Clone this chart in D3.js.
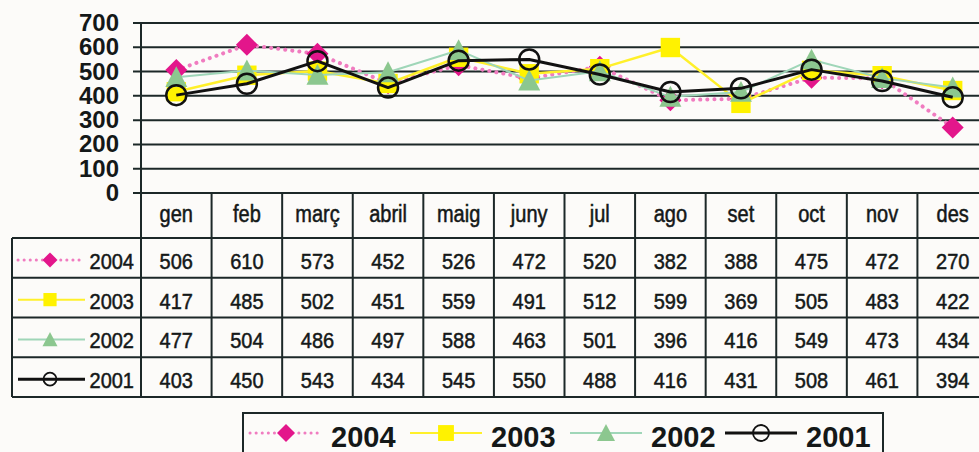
<!DOCTYPE html>
<html>
<head>
<meta charset="utf-8">
<script src="https://cdn.jsdelivr.net/npm/d3@7"></script>
<style>
  html, body { margin: 0; padding: 0; background: #fcfbf9; overflow: hidden; }
  svg { display: block; font-family: "Liberation Sans", Arial, sans-serif; }
</style>
</head>
<body>
<svg id="chart" width="979" height="452"></svg>
<script>
// Monthly figures, one array per year
const months = ["gen", "feb", "març", "abril", "maig", "juny", "jul", "ago", "set", "oct", "nov", "des"];
const years = ["2004", "2003", "2002", "2001"];
const values2004 = [506, 610, 573, 452, 526, 472, 520, 382, 388, 475, 472, 270];
const values2003 = [417, 485, 502, 451, 559, 491, 512, 599, 369, 505, 483, 422];
const values2002 = [477, 504, 486, 497, 588, 463, 501, 396, 416, 549, 473, 434];
const values2001 = [403, 450, 543, 434, 545, 550, 488, 416, 431, 508, 461, 394];
const yTicks = [0, 100, 200, 300, 400, 500, 600, 700];

const seriesValues = [values2004, values2003, values2002, values2001];

const styles = {
  "2004": { line: "#f07cc0", width: 4, dash: "0.1,7", cap: "round", marker: "diamond", fill: "#e3168b", stroke: "none" },
  "2003": { line: "#fff02a", width: 2.5, dash: null, cap: "butt", marker: "square", fill: "#fff200", stroke: "none" },
  "2002": { line: "#9fd6b8", width: 2, dash: null, cap: "butt", marker: "triangle", fill: "#8cc78f", stroke: "none" },
  "2001": { line: "#111111", width: 3, dash: null, cap: "butt", marker: "circle", fill: "none", stroke: "#111111" }
};

const svg = d3.select("#chart");
const ink = "#1c2828";

const plotLeft = 141, plotRight = 988, plotTop = 23, plotBottom = 193;
const tableLeft = 12, headBottom = 238, tableBottom = 397;

const x = d3.scaleBand().domain(months).range([plotLeft, plotRight]);
const y = d3.scaleLinear().domain([0, 700]).range([plotBottom, plotTop]);
const row = d3.scaleBand().domain(years).range([headBottom, tableBottom]);

// Text helper: places a label at a baseline point with a slight vertical stretch
function label(parent, tx, ty, text, opts) {
  const g = parent.append("g").attr("transform", `translate(${tx},${ty}) scale(1,${opts.sy || 1})`);
  g.append("text")
    .attr("text-anchor", opts.anchor || "middle")
    .attr("font-size", opts.size)
    .attr("font-weight", opts.weight || "normal")
    .attr("fill", "#141818")
    .attr("stroke", opts.thick ? "#141818" : null)
    .attr("stroke-width", opts.thick || null)
    .text(text);
  return g;
}

// Marker shapes
function drawMarker(parent, type, cx, cy, size, st) {
  const h = size / 2;
  if (type === "diamond") {
    parent.append("path").attr("d", `M${cx},${cy - h}L${cx + h},${cy}L${cx},${cy + h}L${cx - h},${cy}Z`).attr("fill", st.fill);
  } else if (type === "square") {
    const s = size * 0.88;
    parent.append("rect").attr("x", cx - s / 2).attr("y", cy - s / 2).attr("width", s).attr("height", s).attr("fill", st.fill);
  } else if (type === "triangle") {
    parent.append("path").attr("d", `M${cx},${cy - h}L${cx + h},${cy + h * 0.9}L${cx - h},${cy + h * 0.9}Z`).attr("fill", st.fill);
  } else {
    parent.append("circle").attr("cx", cx).attr("cy", cy).attr("r", h - 1).attr("fill", "none")
      .attr("stroke", st.stroke).attr("stroke-width", size > 18 ? 2.5 : 1.8);
  }
}

// Horizontal gridlines with their tick stubs
const grid = svg.append("g");
grid.selectAll("line").data(yTicks).join("line")
  .attr("x1", plotLeft - 8).attr("x2", plotRight)
  .attr("y1", d => y(d)).attr("y2", d => y(d))
  .attr("stroke", ink).attr("stroke-width", 2);

yTicks.forEach(t => label(svg, 119, y(t) + 8, t, { anchor: "end", size: 24, weight: "bold", sy: 0.98 }));

// Data table grid
const table = svg.append("g").attr("stroke", ink).attr("stroke-width", 2);
table.append("line").attr("x1", plotLeft).attr("x2", plotLeft).attr("y1", plotTop).attr("y2", tableBottom);
table.append("line").attr("x1", tableLeft).attr("x2", tableLeft).attr("y1", headBottom).attr("y2", tableBottom);
months.forEach(m => {
  const xr = x(m) + x.bandwidth();
  table.append("line").attr("x1", xr).attr("x2", xr).attr("y1", plotBottom).attr("y2", tableBottom);
});
years.forEach(yr => {
  table.append("line").attr("x1", tableLeft).attr("x2", plotRight).attr("y1", row(yr)).attr("y2", row(yr));
});
table.append("line").attr("x1", tableLeft).attr("x2", plotRight).attr("y1", tableBottom).attr("y2", tableBottom);

// Month header
months.forEach(m => label(svg, x(m) + x.bandwidth() / 2, 222, m, { size: 20, sy: 1.15, thick: 0.45 }));

// Table body: legend keys, year labels and values
years.forEach((yr, i) => {
  const st = styles[yr];
  const mid = row(yr) + row.bandwidth() / 2;
  const key = svg.append("g");
  key.append("line").attr("x1", 18).attr("x2", 85).attr("y1", mid + 2).attr("y2", mid + 2)
    .attr("stroke", st.line).attr("stroke-width", yr === "2004" ? 3 : (yr === "2001" ? 3 : 2))
    .attr("stroke-dasharray", st.dash ? "0.1,6" : null).attr("stroke-linecap", st.cap);
  drawMarker(key, st.marker, 50, mid + 2, 15, st);
  label(svg, 134, mid + 11, yr, { anchor: "end", size: 20, sy: 1.12, thick: 0.45 });
  seriesValues[i].forEach((v, j) => {
    label(svg, x(months[j]) + x.bandwidth() / 2, mid + 11, v, { size: 20, sy: 1.12, thick: 0.45 });
  });
});

// Series lines and markers
const lineGen = d3.line().x((d, j) => x(months[j]) + x.bandwidth() / 2).y(d => y(d));
years.forEach((yr, i) => {
  const st = styles[yr];
  const g = svg.append("g");
  g.append("path").datum(seriesValues[i]).attr("d", lineGen).attr("fill", "none")
    .attr("stroke", st.line).attr("stroke-width", st.width)
    .attr("stroke-dasharray", st.dash).attr("stroke-linecap", st.cap).attr("stroke-linejoin", "round");
  seriesValues[i].forEach((v, j) => drawMarker(g, st.marker, x(months[j]) + x.bandwidth() / 2, y(v), 22, st));
});

// Legend
const legendX = [250, 410, 570, 725];
const leg = svg.append("g");
leg.append("rect").attr("x", 243).attr("y", 413).attr("width", 640).attr("height", 60)
  .attr("fill", "none").attr("stroke", ink).attr("stroke-width", 2);
years.forEach((yr, i) => {
  const st = styles[yr];
  const x0 = legendX[i], cy = 433;
  leg.append("line").attr("x1", x0).attr("x2", x0 + 72).attr("y1", cy).attr("y2", cy)
    .attr("stroke", st.line).attr("stroke-width", yr === "2001" ? 3 : (yr === "2004" ? 3 : 2))
    .attr("stroke-dasharray", st.dash ? "0.1,6" : null).attr("stroke-linecap", st.cap);
  drawMarker(leg, st.marker, x0 + 36, cy, 18, st);
  label(leg, x0 + 81, 447, yr, { anchor: "start", size: 29, weight: "bold" });
});
</script>
</body>
</html>
